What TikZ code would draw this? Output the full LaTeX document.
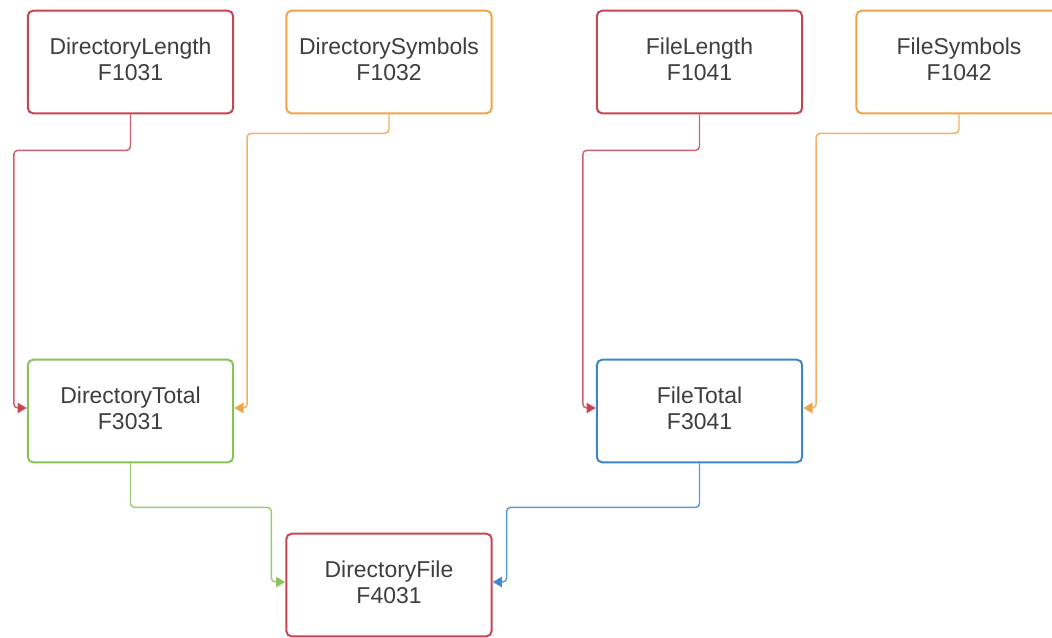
\documentclass[tikz,border=0pt]{standalone}
\usepackage{fontspec}
\setmainfont{Liberation Sans}
\usetikzlibrary{calc,arrows.meta}
\definecolor{cred}{RGB}{201,68,82}
\definecolor{corange}{RGB}{239,163,70}
\definecolor{cgreen}{RGB}{139,194,88}
\definecolor{cblue}{RGB}{62,134,204}
\definecolor{ctext}{RGB}{62,62,62}
\tikzset{
  box/.style={draw=#1, line width=1.5pt, rounded corners=4pt, fill=white,
    minimum width=154pt, minimum height=77pt, align=center, text=ctext,
    font=\fontsize{17.2}{19.5}\selectfont, inner sep=0pt, text depth=4.5pt},
  link/.style={draw=#1, line width=1.1pt, rounded corners=3pt,
    -{Triangle[length=7pt,width=8pt]}, draw opacity=0.85}
}
\begin{document}
\begin{tikzpicture}[x=0.75pt,y=-0.75pt]
\useasboundingbox (0,0) rectangle (1052,638);
\node[box=cred]    (dl) at (130.5,62)  {DirectoryLength\\F1031};
\node[box=corange] (ds) at (389,62)    {DirectorySymbols\\F1032};
\node[box=cred]    (fl) at (699.5,62)  {FileLength\\F1041};
\node[box=corange] (fs) at (959,62)    {FileSymbols\\F1042};
\node[box=cgreen]  (dt) at (130.5,411) {DirectoryTotal\\F3031};
\node[box=cblue]   (ft) at (699.5,411) {FileTotal\\F3041};
\node[box=cred]    (df) at (389,585)   {DirectoryFile\\F4031};
% first level: lengths and symbols into totals
\draw[link=cred]    (dl.south) -- ++(0,36) -| ($(dt.west)+(-13,-3)$) -- ($(dt.west)+(0,-3)$);
\draw[link=corange] (ds.south) -- ++(0,19) -| ($(dt.east)+(13,-3)$) -- ($(dt.east)+(0,-3)$);
\draw[link=cred]    (fl.south) -- ++(0,36) -| ($(ft.west)+(-13,-3)$) -- ($(ft.west)+(0,-3)$);
\draw[link=corange] (fs.south) -- ++(0,19) -| ($(ft.east)+(13,-3)$) -- ($(ft.east)+(0,-3)$);
% second level: totals into the directory file
\draw[link=cgreen]  (dt.south) -- ++(0,44) -| ($(df.west)+(-14,-3)$) -- ($(df.west)+(0,-3)$);
\draw[link=cblue]   (ft.south) -- ++(0,44) -| ($(df.east)+(14,-3)$) -- ($(df.east)+(0,-3)$);
\end{tikzpicture}
\end{document}
